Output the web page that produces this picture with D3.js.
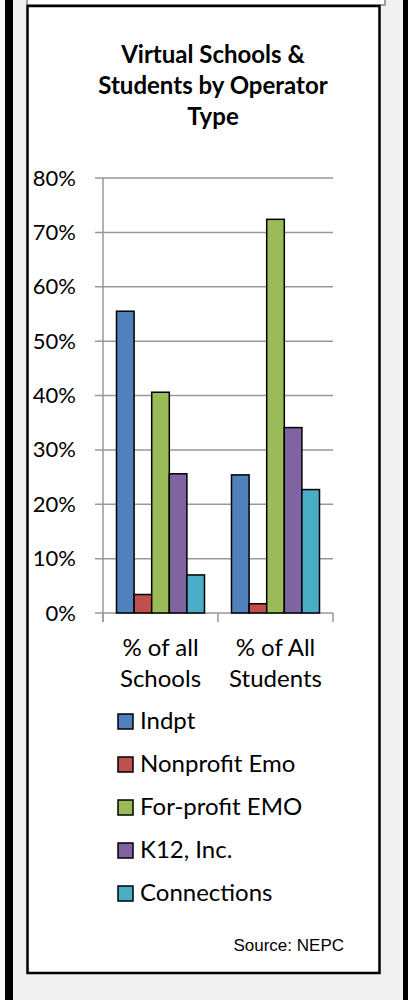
<!DOCTYPE html>
<html lang="en">
<head>
  <meta charset="UTF-8">
  <title>Virtual Schools & Students by Operator Type</title>
  <script src="https://cdn.jsdelivr.net/npm/d3@7/dist/d3.min.js"></script>
  <style>
    * { margin: 0; padding: 0; }
    body { background: #f0f0f0; }
    svg { display: block; }
    .lab { font-family: Lato, "Open Sans", sans-serif; fill: #000; }
  </style>
</head>
<body>
  <div id="chart"></div>
  <script>
  // data
  var categories = ["% of all|Schools", "% of All|Students"];
  var series = ["Indpt", "Nonprofit Emo", "For-profit EMO", "K12, Inc.", "Connections"];
  var colors = ["#4f81bd", "#c0504d", "#9bbb59", "#8064a2", "#4bacc6"];
  var schools = [55.5, 3.4, 40.6, 25.6, 7.0];
  var students = [25.4, 1.7, 72.4, 34.1, 22.7];
  var yTicks = [0, 10, 20, 30, 40, 50, 60, 70, 80];
  var titleLines = ["Virtual Schools &", "Students by Operator", "Type"];

  var W = 408, H = 1000;
  var fs = "24px";
  var svg = d3.select("#chart").append("svg")
      .attr("width", W)
      .attr("height", H);

  // page frame bits
  svg.append("rect").attr("width", W).attr("height", H).attr("fill", "#f0f0f0");
  svg.append("rect").attr("x", 0).attr("y", 0).attr("width", 5).attr("height", H).attr("fill", "#fafafa");
  svg.append("rect").attr("x", 5).attr("y", 0).attr("width", 8).attr("height", H).attr("fill", "#000");
  svg.append("rect").attr("x", 403).attr("y", 0).attr("width", 5).attr("height", H).attr("fill", "#000");
  // previous box peeking at the top
  svg.append("rect").attr("x", 27).attr("y", -10).attr("width", 358).attr("height", 15)
      .attr("fill", "#fff").attr("stroke", "#a0a0a0").attr("stroke-width", 2);
  // main box
  svg.append("rect").attr("x", 27.5).attr("y", 6).attr("width", 352).attr("height", 967)
      .attr("fill", "#fff").attr("stroke", "#000").attr("stroke-width", 2.5);

  // title
  svg.append("text")
      .attr("class", "lab")
      .attr("text-anchor", "middle")
      .style("font-size", fs)
      .style("font-weight", "bold")
    .selectAll("tspan")
    .data(titleLines)
    .enter()
    .append("tspan")
      .attr("x", 213)
      .attr("y", function (d, i) { return 63 + i * 31; })
      .text(function (d) { return d; });

  // scales
  var y = d3.scaleLinear().domain([0, 80]).range([613, 178]);
  var x0 = d3.scaleBand().domain(categories).range([103, 333]);
  var x1 = d3.scaleBand().domain(series).range([13.5, x0.bandwidth() - 13.5]);

  // gridlines
  svg.append("g")
    .selectAll("line")
    .data(yTicks)
    .enter()
    .append("line")
      .attr("x1", 95)
      .attr("x2", 333)
      .attr("y1", function (d) { return y(d); })
      .attr("y2", function (d) { return y(d); })
      .attr("stroke", "#999")
      .attr("stroke-width", 1.5);

  // y axis line + labels
  svg.append("line")
      .attr("x1", 103).attr("x2", 103)
      .attr("y1", y(80)).attr("y2", 622)
      .attr("stroke", "#999").attr("stroke-width", 1.5);

  var yAxis = svg.append("g")
      .attr("transform", "translate(95,0)")
      .call(d3.axisLeft(y).tickValues(yTicks).tickSize(0).tickPadding(19)
        .tickFormat(function (d) { return d + "%"; }));
  yAxis.select(".domain").remove();
  yAxis.selectAll("text")
      .attr("class", "lab")
      .style("font-size", "22px")
      .attr("fill", "#000");

  // category ticks
  var catTicks = [103].concat(categories.map(function (c) { return x0(c) + x0.bandwidth(); }));
  svg.append("g")
    .selectAll("line")
    .data(catTicks)
    .enter()
    .append("line")
      .attr("x1", function (d) { return d; })
      .attr("x2", function (d) { return d; })
      .attr("y1", 613)
      .attr("y2", 622)
      .attr("stroke", "#999")
      .attr("stroke-width", 1.5);

  // bars
  var rows = [schools, students];
  var groups = svg.append("g")
    .selectAll("g")
    .data(categories)
    .enter()
    .append("g")
      .attr("transform", function (d) { return "translate(" + x0(d) + ",0)"; });

  groups.selectAll("rect")
    .data(function (d, i) {
      return series.map(function (s, j) { return { s: s, v: rows[i][j], c: colors[j] }; });
    })
    .enter()
    .append("rect")
      .attr("x", function (d) { return x1(d.s); })
      .attr("y", function (d) { return y(d.v); })
      .attr("width", x1.bandwidth())
      .attr("height", function (d) { return y(0) - y(d.v); })
      .attr("fill", function (d) { return d.c; })
      .attr("stroke", "#000")
      .attr("stroke-width", 1.5);

  // category labels
  svg.append("g")
    .selectAll("text")
    .data(categories)
    .enter()
    .append("text")
      .attr("class", "lab")
      .attr("text-anchor", "middle")
      .style("font-size", fs)
    .selectAll("tspan")
    .data(function (d) { return d.split("|").map(function (t) { return { t: t, c: d }; }); })
    .enter()
    .append("tspan")
      .attr("x", function (d) { return x0(d.c) + x0.bandwidth() / 2; })
      .attr("y", function (d, i) { return 656 + i * 31; })
      .text(function (d) { return d.t; });

  // legend
  var legend = svg.append("g")
    .selectAll("g")
    .data(series)
    .enter()
    .append("g")
      .attr("transform", function (d, i) { return "translate(118," + (714 + i * 43) + ")"; });

  legend.append("rect")
      .attr("width", 15)
      .attr("height", 15)
      .attr("fill", function (d, i) { return colors[i]; })
      .attr("stroke", "#000")
      .attr("stroke-width", 1.5);

  legend.append("text")
      .attr("class", "lab")
      .attr("x", 22)
      .attr("y", 15)
      .style("font-size", fs)
      .text(function (d) { return d; });

  // source
  svg.append("text")
      .attr("x", 344)
      .attr("y", 951)
      .attr("text-anchor", "end")
      .style("font-family", "'Liberation Sans', Arial, sans-serif")
      .style("font-size", "17px")
      .attr("fill", "#000")
      .text("Source: NEPC");
  </script>
</body>
</html>
